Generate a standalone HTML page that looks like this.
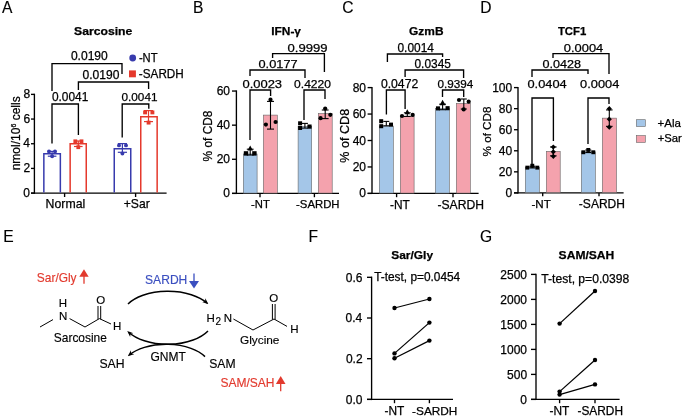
<!DOCTYPE html>
<html><head><meta charset="utf-8"><title>Figure</title>
<style>
html,body{margin:0;padding:0;background:#fff;}
svg{display:block;font-family:"Liberation Sans",sans-serif;}
text{stroke-linejoin:round;}
</style></head>
<body>
<svg width="685" height="419" viewBox="0 0 685 419">
<rect width="685" height="419" fill="#fff"/>
<text x="2.01" y="13.2" font-size="15.6" fill="#000" stroke="#000" stroke-width="0.15">A</text>
<text x="192.88" y="13.2" font-size="15.6" fill="#000" stroke="#000" stroke-width="0.15">B</text>
<text x="342.37" y="13.3" font-size="15.6" fill="#000" stroke="#000" stroke-width="0.15">C</text>
<text x="480.26" y="13.2" font-size="15.6" fill="#000" stroke="#000" stroke-width="0.15">D</text>
<text x="3.20" y="242" font-size="15.6" fill="#000" stroke="#000" stroke-width="0.15">E</text>
<text x="308.43" y="242" font-size="15.6" fill="#000" stroke="#000" stroke-width="0.15">F</text>
<text x="480.11" y="242.1" font-size="15.6" fill="#000" stroke="#000" stroke-width="0.15">G</text>
<text x="74.03" y="35.2" font-size="11.4" font-weight="bold" fill="#000" stroke="#000" stroke-width="0.25" textLength="58.34" lengthAdjust="spacingAndGlyphs">Sarcosine</text>
<line x1="34.4" y1="93.705" x2="34.4" y2="193.775" stroke="#000" stroke-width="1.35"/>
<line x1="31" y1="193.1" x2="166.6" y2="193.1" stroke="#000" stroke-width="1.35"/>
<line x1="31" y1="193.1" x2="34.4" y2="193.1" stroke="#000" stroke-width="1.35"/>
<text x="23.36" y="196.79999999999998" font-size="12" fill="#000" stroke="#000" stroke-width="0.25">0</text>
<line x1="31" y1="168.42" x2="34.4" y2="168.42" stroke="#000" stroke-width="1.35"/>
<text x="23.54" y="172.11999999999998" font-size="12" fill="#000" stroke="#000" stroke-width="0.25">2</text>
<line x1="31" y1="143.74" x2="34.4" y2="143.74" stroke="#000" stroke-width="1.35"/>
<text x="23.24" y="147.44" font-size="12" fill="#000" stroke="#000" stroke-width="0.25">4</text>
<line x1="31" y1="119.06" x2="34.4" y2="119.06" stroke="#000" stroke-width="1.35"/>
<text x="23.42" y="122.76" font-size="12" fill="#000" stroke="#000" stroke-width="0.25">6</text>
<line x1="31" y1="94.38" x2="34.4" y2="94.38" stroke="#000" stroke-width="1.35"/>
<text x="23.42" y="98.08" font-size="12" fill="#000" stroke="#000" stroke-width="0.25">8</text>
<line x1="64.6" y1="193.1" x2="64.6" y2="197" stroke="#000" stroke-width="1.35"/>
<line x1="135.6" y1="193.1" x2="135.6" y2="197" stroke="#000" stroke-width="1.35"/>
<text x="45.62" y="208.3" font-size="12.29" fill="#000" stroke="#000" stroke-width="0.25">Normal</text>
<text x="123.79" y="208.3" font-size="12.14" fill="#000" stroke="#000" stroke-width="0.25">+Sar</text>
<text transform="translate(20 170.3) rotate(-90)" font-size="12" fill="#000" stroke="#000" stroke-width="0.25">nmol/10<tspan font-size="7" dy="-4.4">6</tspan><tspan dy="4.4"> cells</tspan></text>
<path d="M43.85 192.5V153.75H60.35V192.5" fill="none" stroke="#383bad" stroke-width="1.5"/>
<path d="M70.15 192.5V143.85H86.25V192.5" fill="none" stroke="#e5392c" stroke-width="1.5"/>
<path d="M114.25 192.5V148.75H130.75V192.5" fill="none" stroke="#383bad" stroke-width="1.5"/>
<path d="M140.75 192.5V116.65H157.15V192.5" fill="none" stroke="#e5392c" stroke-width="1.5"/>
<line x1="52.1" y1="151.4" x2="52.1" y2="156.2" stroke="#383bad" stroke-width="1.2"/>
<line x1="47.800000000000004" y1="151.4" x2="56.4" y2="151.4" stroke="#383bad" stroke-width="1.2"/>
<line x1="47.800000000000004" y1="156.2" x2="56.4" y2="156.2" stroke="#383bad" stroke-width="1.2"/>
<circle cx="49" cy="151.5" r="2.0" fill="#383bad"/>
<circle cx="55" cy="151.5" r="2.0" fill="#383bad"/>
<circle cx="52.1" cy="156.2" r="2.0" fill="#383bad"/>
<line x1="78.3" y1="141.0" x2="78.3" y2="146.5" stroke="#e5392c" stroke-width="1.2"/>
<line x1="74.0" y1="141.0" x2="82.6" y2="141.0" stroke="#e5392c" stroke-width="1.2"/>
<line x1="74.0" y1="146.5" x2="82.6" y2="146.5" stroke="#e5392c" stroke-width="1.2"/>
<rect x="73.39999999999999" y="139.4" width="3.8" height="3.8" fill="#e5392c"/>
<rect x="79.6" y="139.4" width="3.8" height="3.8" fill="#e5392c"/>
<rect x="76.39999999999999" y="145.29999999999998" width="3.8" height="3.8" fill="#e5392c"/>
<line x1="122.4" y1="143.6" x2="122.4" y2="152.3" stroke="#383bad" stroke-width="1.2"/>
<line x1="117.80000000000001" y1="143.6" x2="127.0" y2="143.6" stroke="#383bad" stroke-width="1.2"/>
<line x1="117.80000000000001" y1="152.3" x2="127.0" y2="152.3" stroke="#383bad" stroke-width="1.2"/>
<circle cx="119" cy="145.4" r="1.95" fill="#383bad"/>
<circle cx="126" cy="145.4" r="1.95" fill="#383bad"/>
<circle cx="122.4" cy="153.5" r="1.95" fill="#383bad"/>
<line x1="148.5" y1="110.6" x2="148.5" y2="121.6" stroke="#e5392c" stroke-width="1.2"/>
<line x1="144.0" y1="110.6" x2="153.0" y2="110.6" stroke="#e5392c" stroke-width="1.2"/>
<line x1="144.0" y1="121.6" x2="153.0" y2="121.6" stroke="#e5392c" stroke-width="1.2"/>
<rect x="143.15" y="110.45" width="3.9" height="3.9" fill="#e5392c"/>
<rect x="150.45000000000002" y="110.45" width="3.9" height="3.9" fill="#e5392c"/>
<rect x="146.65" y="120.64999999999999" width="3.9" height="3.9" fill="#e5392c"/>
<path d="M52 143.6V104H78.4V135" stroke="#000" stroke-width="1.35" fill="none"/>
<path d="M122.2 137.4V104H148.8V108.8" stroke="#000" stroke-width="1.35" fill="none"/>
<path d="M52 91V63.6H122V74" stroke="#000" stroke-width="1.35" fill="none"/>
<path d="M78.4 90V82H148.6V89" stroke="#000" stroke-width="1.35" fill="none"/>
<text x="51.92" y="101.1" font-size="11.9" fill="#000" stroke="#000" stroke-width="0.25">0.0041</text>
<text x="121.53" y="101.1" font-size="11.76" fill="#000" stroke="#000" stroke-width="0.25">0.0041</text>
<text x="70.92" y="59.5" font-size="12.06" fill="#000" stroke="#000" stroke-width="0.25">0.0190</text>
<text x="82.52" y="79.3" font-size="12.06" fill="#000" stroke="#000" stroke-width="0.25">0.0190</text>
<circle cx="132.7" cy="58" r="3.4" fill="#383bad"/>
<text x="138.90" y="62" font-size="12" fill="#000" stroke="#000" stroke-width="0.25" textLength="18.64" lengthAdjust="spacingAndGlyphs">-NT</text>
<rect x="129" y="70.4" width="6.9" height="6.9" fill="#e5392c" stroke="none" stroke-width="1"/>
<text x="138.87" y="78.2" font-size="12" fill="#000" stroke="#000" stroke-width="0.25" textLength="44.91" lengthAdjust="spacingAndGlyphs">-SARDH</text>
<text x="271.23" y="35" font-size="11.4" font-weight="bold" fill="#000" stroke="#000" stroke-width="0.25" textLength="29.78" lengthAdjust="spacingAndGlyphs">IFN-γ</text>
<line x1="236.4" y1="90.36500000000001" x2="236.4" y2="194.07500000000002" stroke="#000" stroke-width="1.35"/>
<line x1="232.0" y1="193.4" x2="339" y2="193.4" stroke="#000" stroke-width="1.35"/>
<line x1="232.0" y1="193.4" x2="236.4" y2="193.4" stroke="#000" stroke-width="1.35"/>
<text x="223.36" y="197.4" font-size="12" fill="#000" stroke="#000" stroke-width="0.25">0</text>
<line x1="232.0" y1="159.28" x2="236.4" y2="159.28" stroke="#000" stroke-width="1.35"/>
<text x="216.70" y="163.28" font-size="12" fill="#000" stroke="#000" stroke-width="0.25">20</text>
<line x1="232.0" y1="125.16000000000001" x2="236.4" y2="125.16000000000001" stroke="#000" stroke-width="1.35"/>
<text x="216.70" y="129.16000000000003" font-size="12" fill="#000" stroke="#000" stroke-width="0.25">40</text>
<line x1="232.0" y1="91.04" x2="236.4" y2="91.04" stroke="#000" stroke-width="1.35"/>
<text x="216.70" y="95.04" font-size="12" fill="#000" stroke="#000" stroke-width="0.25">60</text>
<line x1="260" y1="193.4" x2="260" y2="197.20000000000002" stroke="#000" stroke-width="1.35"/>
<line x1="314.4" y1="193.4" x2="314.4" y2="197.20000000000002" stroke="#000" stroke-width="1.35"/>
<rect x="243.3" y="153.99" width="13.799999999999978" height="39.11" fill="#a4c6e8" stroke="#666" stroke-width="0.6"/>
<rect x="263.3" y="115.09" width="14.000000000000023" height="78.01" fill="#f4a2ad" stroke="#666" stroke-width="0.6"/>
<rect x="298.1" y="126.52" width="13.599999999999989" height="66.58" fill="#a4c6e8" stroke="#666" stroke-width="0.6"/>
<rect x="318.3" y="113.56" width="13.9" height="79.54" fill="#f4a2ad" stroke="#666" stroke-width="0.6"/>
<text x="251.09" y="208" font-size="11.25" fill="#000" stroke="#000" stroke-width="0.25">-NT</text>
<text x="296.09" y="208" font-size="11.34" fill="#000" stroke="#000" stroke-width="0.25">-SARDH</text>
<text transform="translate(211.5 161) rotate(-90)" x="-0.42" y="0" font-size="11.89" fill="#000" stroke="#000" stroke-width="0.25">% of CD8</text>
<line x1="250.2" y1="149.2" x2="250.2" y2="155" stroke="#000" stroke-width="1.1"/>
<line x1="246.79999999999998" y1="149.2" x2="253.6" y2="149.2" stroke="#000" stroke-width="1.1"/>
<line x1="246.79999999999998" y1="155" x2="253.6" y2="155" stroke="#000" stroke-width="1.1"/>
<rect x="243.8" y="151.20000000000002" width="4.4" height="4.4" fill="#000"/>
<rect x="252.20000000000002" y="151.20000000000002" width="4.4" height="4.4" fill="#000"/>
<path d="M250.2 145.6L252.95 150.6H247.45Z" fill="#000"/>
<line x1="270.5" y1="101.4" x2="270.5" y2="129.1" stroke="#000" stroke-width="1.1"/>
<line x1="267.0" y1="101.4" x2="274.0" y2="101.4" stroke="#000" stroke-width="1.1"/>
<line x1="267.0" y1="129.1" x2="274.0" y2="129.1" stroke="#000" stroke-width="1.1"/>
<circle cx="270.5" cy="99.7" r="2.1" fill="#000"/>
<circle cx="265.9" cy="124.6" r="2.1" fill="#000"/>
<circle cx="275.6" cy="122" r="2.1" fill="#000"/>
<line x1="304.9" y1="123.4" x2="304.9" y2="128.1" stroke="#000" stroke-width="1.1"/>
<line x1="301.9" y1="123.4" x2="307.9" y2="123.4" stroke="#000" stroke-width="1.1"/>
<line x1="301.9" y1="128.1" x2="307.9" y2="128.1" stroke="#000" stroke-width="1.1"/>
<rect x="298.1" y="121.3" width="4.0" height="4.0" fill="#000"/>
<rect x="298.1" y="126.0" width="4.0" height="4.0" fill="#000"/>
<rect x="307.4" y="124.5" width="4.2" height="4.2" fill="#000"/>
<line x1="325.2" y1="110" x2="325.2" y2="118.6" stroke="#000" stroke-width="1.1"/>
<line x1="321.8" y1="110" x2="328.59999999999997" y2="110" stroke="#000" stroke-width="1.1"/>
<line x1="321.8" y1="118.6" x2="328.59999999999997" y2="118.6" stroke="#000" stroke-width="1.1"/>
<circle cx="325.2" cy="108.6" r="2.1" fill="#000"/>
<circle cx="320.6" cy="118.2" r="2.1" fill="#000"/>
<circle cx="330.3" cy="114.8" r="2.1" fill="#000"/>
<path d="M250 140V90H270.6V96" stroke="#000" stroke-width="1.35" fill="none"/>
<path d="M304 120V90H325V99" stroke="#000" stroke-width="1.35" fill="none"/>
<path d="M250 76V70H305V78" stroke="#000" stroke-width="1.35" fill="none"/>
<path d="M272.6 58V53.6H324.4V72" stroke="#000" stroke-width="1.35" fill="none"/>
<text x="242.48" y="88.3" font-size="11.8" fill="#000" stroke="#000" stroke-width="0.25" textLength="39.62" lengthAdjust="spacingAndGlyphs">0.0023</text>
<text x="294.12" y="88.3" font-size="11.8" fill="#000" stroke="#000" stroke-width="0.25" textLength="36.89" lengthAdjust="spacingAndGlyphs">0.4220</text>
<text x="258.49" y="68.2" font-size="11.8" fill="#000" stroke="#000" stroke-width="0.25" textLength="39.13" lengthAdjust="spacingAndGlyphs">0.0177</text>
<text x="287.48" y="51.6" font-size="11.8" fill="#000" stroke="#000" stroke-width="0.25" textLength="40.10" lengthAdjust="spacingAndGlyphs">0.9999</text>
<text x="409.12" y="35" font-size="11.4" font-weight="bold" fill="#000" stroke="#000" stroke-width="0.25" textLength="34.40" lengthAdjust="spacingAndGlyphs">GzmB</text>
<line x1="372" y1="86.92500000000001" x2="372" y2="194.07500000000002" stroke="#000" stroke-width="1.35"/>
<line x1="367.6" y1="193.4" x2="478.6" y2="193.4" stroke="#000" stroke-width="1.35"/>
<line x1="367.6" y1="193.4" x2="372" y2="193.4" stroke="#000" stroke-width="1.35"/>
<text x="359.36" y="197.4" font-size="12" fill="#000" stroke="#000" stroke-width="0.25">0</text>
<line x1="367.6" y1="166.95000000000002" x2="372" y2="166.95000000000002" stroke="#000" stroke-width="1.35"/>
<text x="352.70" y="170.95000000000002" font-size="12" fill="#000" stroke="#000" stroke-width="0.25">20</text>
<line x1="367.6" y1="140.5" x2="372" y2="140.5" stroke="#000" stroke-width="1.35"/>
<text x="352.70" y="144.5" font-size="12" fill="#000" stroke="#000" stroke-width="0.25">40</text>
<line x1="367.6" y1="114.05000000000001" x2="372" y2="114.05000000000001" stroke="#000" stroke-width="1.35"/>
<text x="352.70" y="118.05000000000001" font-size="12" fill="#000" stroke="#000" stroke-width="0.25">60</text>
<line x1="367.6" y1="87.60000000000001" x2="372" y2="87.60000000000001" stroke="#000" stroke-width="1.35"/>
<text x="352.70" y="91.60000000000001" font-size="12" fill="#000" stroke="#000" stroke-width="0.25">80</text>
<line x1="396.6" y1="193.4" x2="396.6" y2="197.20000000000002" stroke="#000" stroke-width="1.35"/>
<line x1="453" y1="193.4" x2="453" y2="197.20000000000002" stroke="#000" stroke-width="1.35"/>
<rect x="379.3" y="126.08" width="14.000000000000023" height="67.02" fill="#a4c6e8" stroke="#666" stroke-width="0.6"/>
<rect x="400.3" y="116.30" width="13.799999999999978" height="76.80" fill="#f4a2ad" stroke="#666" stroke-width="0.6"/>
<rect x="435.3" y="108.36" width="14.000000000000023" height="84.74" fill="#a4c6e8" stroke="#666" stroke-width="0.6"/>
<rect x="456.3" y="103.47" width="14.000000000000023" height="89.63" fill="#f4a2ad" stroke="#666" stroke-width="0.6"/>
<text x="390.07" y="209" font-size="11.88" fill="#000" stroke="#000" stroke-width="0.25">-NT</text>
<text x="437.45" y="209" font-size="12.15" fill="#000" stroke="#000" stroke-width="0.25">-SARDH</text>
<text transform="translate(349 162.3) rotate(-90)" x="-0.44" y="0" font-size="12.6" fill="#000" stroke="#000" stroke-width="0.25">% of CD8</text>
<line x1="386.3" y1="121.4" x2="386.3" y2="125.8" stroke="#000" stroke-width="1.1"/>
<line x1="383.3" y1="121.4" x2="389.3" y2="121.4" stroke="#000" stroke-width="1.1"/>
<line x1="383.3" y1="125.8" x2="389.3" y2="125.8" stroke="#000" stroke-width="1.1"/>
<rect x="379.2" y="119.2" width="4.0" height="4.0" fill="#000"/>
<rect x="379.2" y="124.2" width="4.0" height="4.0" fill="#000"/>
<rect x="389.0" y="122.6" width="4.0" height="4.0" fill="#000"/>
<line x1="407.3" y1="112.8" x2="407.3" y2="116.4" stroke="#000" stroke-width="1.1"/>
<line x1="403.90000000000003" y1="112.8" x2="410.7" y2="112.8" stroke="#000" stroke-width="1.1"/>
<line x1="403.90000000000003" y1="116.4" x2="410.7" y2="116.4" stroke="#000" stroke-width="1.1"/>
<circle cx="402" cy="116" r="2.1" fill="#000"/>
<circle cx="412.7" cy="114.9" r="2.1" fill="#000"/>
<path d="M407.3 109.2L410.05 114.2H404.55Z" fill="#000"/>
<line x1="442.6" y1="104.2" x2="442.6" y2="109.7" stroke="#000" stroke-width="1.1"/>
<line x1="439.20000000000005" y1="104.2" x2="446.0" y2="104.2" stroke="#000" stroke-width="1.1"/>
<line x1="439.20000000000005" y1="109.7" x2="446.0" y2="109.7" stroke="#000" stroke-width="1.1"/>
<rect x="435.95" y="106.35000000000001" width="4.1" height="4.1" fill="#000"/>
<rect x="445.55" y="106.15" width="4.1" height="4.1" fill="#000"/>
<path d="M442.6 99.76L445.57000000000005 105.16H439.63Z" fill="#000"/>
<line x1="463.8" y1="99" x2="463.8" y2="109" stroke="#000" stroke-width="1.1"/>
<line x1="460.8" y1="99" x2="466.8" y2="99" stroke="#000" stroke-width="1.1"/>
<line x1="460.8" y1="109" x2="466.8" y2="109" stroke="#000" stroke-width="1.1"/>
<circle cx="459" cy="100" r="2.1" fill="#000"/>
<circle cx="468.7" cy="101.7" r="2.1" fill="#000"/>
<circle cx="463.7" cy="109.4" r="2.1" fill="#000"/>
<path d="M386.4 114.4V90H405.1V109" stroke="#000" stroke-width="1.35" fill="none"/>
<path d="M442.5 97V90H463.7V97" stroke="#000" stroke-width="1.35" fill="none"/>
<path d="M405.1 77V70H463.6V78" stroke="#000" stroke-width="1.35" fill="none"/>
<path d="M387.4 62V54H442.6V57" stroke="#000" stroke-width="1.35" fill="none"/>
<text x="380.91" y="88" font-size="12.19" fill="#000" stroke="#000" stroke-width="0.25">0.0472</text>
<text x="437.53" y="88" font-size="11.69" fill="#000" stroke="#000" stroke-width="0.25">0.9394</text>
<text x="414.52" y="68" font-size="11.88" fill="#000" stroke="#000" stroke-width="0.25">0.0345</text>
<text x="397.52" y="51.6" font-size="11.89" fill="#000" stroke="#000" stroke-width="0.25">0.0014</text>
<text x="557.89" y="35" font-size="11.4" font-weight="bold" fill="#000" stroke="#000" stroke-width="0.25" textLength="28.40" lengthAdjust="spacingAndGlyphs">TCF1</text>
<line x1="518" y1="86.92500000000001" x2="518" y2="193.57500000000002" stroke="#000" stroke-width="1.35"/>
<line x1="514" y1="192.9" x2="623.6" y2="192.9" stroke="#000" stroke-width="1.35"/>
<line x1="514" y1="192.9" x2="518" y2="192.9" stroke="#000" stroke-width="1.35"/>
<text x="505.46" y="196.9" font-size="12" fill="#000" stroke="#000" stroke-width="0.25">0</text>
<line x1="514" y1="171.84" x2="518" y2="171.84" stroke="#000" stroke-width="1.35"/>
<text x="498.80" y="175.84" font-size="12" fill="#000" stroke="#000" stroke-width="0.25">20</text>
<line x1="514" y1="150.78" x2="518" y2="150.78" stroke="#000" stroke-width="1.35"/>
<text x="498.80" y="154.78" font-size="12" fill="#000" stroke="#000" stroke-width="0.25">40</text>
<line x1="514" y1="129.72000000000003" x2="518" y2="129.72000000000003" stroke="#000" stroke-width="1.35"/>
<text x="498.80" y="133.72000000000003" font-size="12" fill="#000" stroke="#000" stroke-width="0.25">60</text>
<line x1="514" y1="108.66000000000001" x2="518" y2="108.66000000000001" stroke="#000" stroke-width="1.35"/>
<text x="498.80" y="112.66000000000001" font-size="12" fill="#000" stroke="#000" stroke-width="0.25">80</text>
<line x1="514" y1="87.60000000000001" x2="518" y2="87.60000000000001" stroke="#000" stroke-width="1.35"/>
<text x="492.14" y="91.60000000000001" font-size="12" fill="#000" stroke="#000" stroke-width="0.25">100</text>
<line x1="542.7" y1="192.9" x2="542.7" y2="196.3" stroke="#000" stroke-width="1.35"/>
<line x1="599" y1="192.9" x2="599" y2="196.3" stroke="#000" stroke-width="1.35"/>
<rect x="525.3" y="167.31" width="14.000000000000023" height="25.29" fill="#a4c6e8" stroke="#666" stroke-width="0.6"/>
<rect x="546.3" y="151.31" width="13.9" height="41.29" fill="#f4a2ad" stroke="#666" stroke-width="0.6"/>
<rect x="581.3" y="151.83" width="14.000000000000023" height="40.77" fill="#a4c6e8" stroke="#666" stroke-width="0.6"/>
<rect x="602.3" y="118.14" width="14.199999999999955" height="74.46" fill="#f4a2ad" stroke="#666" stroke-width="0.6"/>
<text x="531.48" y="207.5" font-size="11.63" fill="#000" stroke="#000" stroke-width="0.25">-NT</text>
<text x="578.86" y="207.5" font-size="12.04" fill="#000" stroke="#000" stroke-width="0.25">-SARDH</text>
<text transform="translate(491 156) rotate(-90)" x="-0.41" y="0" font-size="11.65" fill="#000" stroke="#000" stroke-width="0.25">% of CD8</text>
<line x1="532.3" y1="166.25910000000002" x2="532.3" y2="167.9439" stroke="#000" stroke-width="1.1"/>
<line x1="529.3" y1="166.25910000000002" x2="535.3" y2="166.25910000000002" stroke="#000" stroke-width="1.1"/>
<line x1="529.3" y1="167.9439" x2="535.3" y2="167.9439" stroke="#000" stroke-width="1.1"/>
<rect x="525.3499999999999" y="165.67800000000003" width="3.9" height="3.9" fill="#000"/>
<rect x="535.3499999999999" y="165.67800000000003" width="3.9" height="3.9" fill="#000"/>
<rect x="530.3499999999999" y="163.7826" width="3.9" height="3.9" fill="#000"/>
<line x1="553.3" y1="146.9892" x2="553.3" y2="155.83440000000002" stroke="#000" stroke-width="1.1"/>
<line x1="550.0" y1="146.9892" x2="556.5999999999999" y2="146.9892" stroke="#000" stroke-width="1.1"/>
<line x1="550.0" y1="155.83440000000002" x2="556.5999999999999" y2="155.83440000000002" stroke="#000" stroke-width="1.1"/>
<path d="M553.3 144.38920000000002L555.9 146.9892L553.3 149.5892L550.6999999999999 146.9892Z" fill="#000"/>
<path d="M553.3 149.233L555.9 151.833L553.3 154.433L550.6999999999999 151.833Z" fill="#000"/>
<path d="M553.3 153.76090000000002L555.9 156.36090000000002L553.3 158.9609L550.6999999999999 156.36090000000002Z" fill="#000"/>
<line x1="588.3" y1="150.0429" x2="588.3" y2="152.57010000000002" stroke="#000" stroke-width="1.1"/>
<line x1="585.3" y1="150.0429" x2="591.3" y2="150.0429" stroke="#000" stroke-width="1.1"/>
<line x1="585.3" y1="152.57010000000002" x2="591.3" y2="152.57010000000002" stroke="#000" stroke-width="1.1"/>
<rect x="581.3499999999999" y="150.3042" width="3.9" height="3.9" fill="#000"/>
<rect x="591.3499999999999" y="150.3042" width="3.9" height="3.9" fill="#000"/>
<rect x="586.3499999999999" y="147.98760000000001" width="3.9" height="3.9" fill="#000"/>
<line x1="609.3" y1="109.92360000000001" x2="609.3" y2="126.35040000000001" stroke="#000" stroke-width="1.1"/>
<line x1="606.0" y1="109.92360000000001" x2="612.5999999999999" y2="109.92360000000001" stroke="#000" stroke-width="1.1"/>
<line x1="606.0" y1="126.35040000000001" x2="612.5999999999999" y2="126.35040000000001" stroke="#000" stroke-width="1.1"/>
<path d="M609.3 106.06000000000002L611.9 108.66000000000001L609.3 111.26L606.6999999999999 108.66000000000001Z" fill="#000"/>
<path d="M609.3 116.59000000000002L611.9 119.19000000000001L609.3 121.79L606.6999999999999 119.19000000000001Z" fill="#000"/>
<path d="M609.3 124.59280000000001L611.9 127.1928L609.3 129.7928L606.6999999999999 127.1928Z" fill="#000"/>
<path d="M532 164V98H553.4V141" stroke="#000" stroke-width="1.35" fill="none"/>
<path d="M588 144V98H609V104" stroke="#000" stroke-width="1.35" fill="none"/>
<path d="M532 77V70H588V74" stroke="#000" stroke-width="1.35" fill="none"/>
<path d="M553 58V53.6H609V74" stroke="#000" stroke-width="1.35" fill="none"/>
<text x="527.49" y="88.3" font-size="11.8" fill="#000" stroke="#000" stroke-width="0.25" textLength="39.22" lengthAdjust="spacingAndGlyphs">0.0404</text>
<text x="580.09" y="88.3" font-size="11.8" fill="#000" stroke="#000" stroke-width="0.25" textLength="39.22" lengthAdjust="spacingAndGlyphs">0.0004</text>
<text x="542.50" y="68.2" font-size="11.8" fill="#000" stroke="#000" stroke-width="0.25" textLength="38.59" lengthAdjust="spacingAndGlyphs">0.0428</text>
<text x="563.88" y="51.6" font-size="11.8" fill="#000" stroke="#000" stroke-width="0.25" textLength="39.42" lengthAdjust="spacingAndGlyphs">0.0004</text>
<rect x="636.3" y="119.7" width="9" height="6.8" fill="#a4c6e8" stroke="#666" stroke-width="0.6"/>
<rect x="636.3" y="135.6" width="9" height="6.8" fill="#f4a2ad" stroke="#666" stroke-width="0.6"/>
<text x="657.62" y="126.7" font-size="11.52" fill="#000" stroke="#000" stroke-width="0.25">+Ala</text>
<text x="657.64" y="141.9" font-size="11.28" fill="#000" stroke="#000" stroke-width="0.25">+Sar</text>
<text x="36.86" y="282" font-size="11.91" fill="#e23a2e" stroke="#e23a2e" stroke-width="0.15">Sar/Gly</text>
<path d="M84 269.2L88.7 276.8H79.3Z" fill="#e23a2e"/>
<line x1="84" y1="275.8" x2="84" y2="283.8" stroke="#e23a2e" stroke-width="1.3"/>
<text x="145.06" y="284" font-size="12.09" fill="#3b4fc0" stroke="#3b4fc0" stroke-width="0.15">SARDH</text>
<path d="M194 288.6L189 281H199Z" fill="#3b4fc0"/>
<line x1="194" y1="273.4" x2="194" y2="282" stroke="#3b4fc0" stroke-width="1.3"/>
<text x="220.46" y="386.6" font-size="12.02" fill="#e23a2e" stroke="#e23a2e" stroke-width="0.15">SAM/SAH</text>
<path d="M280.7 376L285.5 384H275.9Z" fill="#e23a2e"/>
<line x1="280.7" y1="383" x2="280.7" y2="391.2" stroke="#e23a2e" stroke-width="1.3"/>
<text x="58.86" y="307" font-size="11.5" fill="#000" stroke="#000" stroke-width="0.15">H</text>
<text x="59.06" y="319.6" font-size="11.5" fill="#000" stroke="#000" stroke-width="0.15">N</text>
<text x="96.14" y="304.4" font-size="11.5" fill="#000" stroke="#000" stroke-width="0.15">O</text>
<text x="113.06" y="330" font-size="11.5" fill="#000" stroke="#000" stroke-width="0.15">H</text>
<line x1="40" y1="327" x2="53" y2="319.6" stroke="#000" stroke-width="1.0"/>
<line x1="69.6" y1="318.6" x2="85" y2="327" stroke="#000" stroke-width="1.0"/>
<line x1="85" y1="327" x2="99.4" y2="318.6" stroke="#000" stroke-width="1.0"/>
<line x1="98" y1="306" x2="98" y2="319.2" stroke="#000" stroke-width="1.0"/>
<line x1="100.7" y1="306" x2="100.7" y2="319.2" stroke="#000" stroke-width="1.0"/>
<line x1="99.4" y1="318.6" x2="111" y2="324" stroke="#000" stroke-width="1.0"/>
<text x="53.86" y="341.5" font-size="11.93" fill="#000" stroke="#000" stroke-width="0.15">Sarcosine</text>
<text x="99.45" y="368" font-size="12.23" fill="#000" stroke="#000" stroke-width="0.15">SAH</text>
<text x="150.40" y="361" font-size="12.03" fill="#000" stroke="#000" stroke-width="0.15">GNMT</text>
<text x="209.25" y="368" font-size="12.16" fill="#000" stroke="#000" stroke-width="0.15">SAM</text>
<text x="206.56" y="321.6" font-size="11.5" fill="#000" stroke="#000" stroke-width="0.15">H</text>
<text x="215.62" y="324.6" font-size="10" fill="#000" stroke="#000" stroke-width="0.15">2</text>
<text x="223.66" y="321.6" font-size="11.5" fill="#000" stroke="#000" stroke-width="0.15">N</text>
<text x="269.14" y="302.3" font-size="11.5" fill="#000" stroke="#000" stroke-width="0.15">O</text>
<text x="290.16" y="332.5" font-size="11.5" fill="#000" stroke="#000" stroke-width="0.15">H</text>
<line x1="233.4" y1="319" x2="253" y2="330" stroke="#000" stroke-width="1.0"/>
<line x1="253" y1="330" x2="274" y2="319" stroke="#000" stroke-width="1.0"/>
<line x1="272.4" y1="304" x2="272.4" y2="319.6" stroke="#000" stroke-width="1.0"/>
<line x1="275.1" y1="304" x2="275.1" y2="319.6" stroke="#000" stroke-width="1.0"/>
<line x1="274" y1="319" x2="287" y2="326.4" stroke="#000" stroke-width="1.0"/>
<text x="240.01" y="344" font-size="11.83" fill="#000" stroke="#000" stroke-width="0.15">Glycine</text>
<defs><marker id="ah" viewBox="0 0 10 10" refX="7" refY="5" markerWidth="6.2" markerHeight="6.2" markerUnits="userSpaceOnUse" orient="auto"><path d="M0 1L10 5L0 9L3 5Z" fill="#000"/></marker></defs>
<path d="M128 304 A46 25.1 0 0 1 207 303" stroke="#000" stroke-width="1.5" fill="none" marker-end="url(#ah)"/>
<path d="M208 331 A46 25.7 0 0 1 128.6 332.2" stroke="#000" stroke-width="1.5" fill="none" marker-end="url(#ah)"/>
<path d="M205 356.6 A44 23.3 0 0 0 129.2 355" stroke="#000" stroke-width="1.5" fill="none" marker-end="url(#ah)"/>
<text x="391.24" y="259" font-size="11.4" font-weight="bold" fill="#000" stroke="#000" stroke-width="0.25" textLength="41.84" lengthAdjust="spacingAndGlyphs">Sar/Gly</text>
<line x1="371.6" y1="276.62499999999994" x2="371.6" y2="400.075" stroke="#000" stroke-width="1.35"/>
<line x1="367" y1="399.4" x2="453" y2="399.4" stroke="#000" stroke-width="1.35"/>
<line x1="367" y1="399.4" x2="371.6" y2="399.4" stroke="#000" stroke-width="1.35"/>
<text x="345.74" y="403.59999999999997" font-size="12" fill="#000" stroke="#000" stroke-width="0.25">0.0</text>
<line x1="367" y1="358.7" x2="371.6" y2="358.7" stroke="#000" stroke-width="1.35"/>
<text x="345.92" y="362.9" font-size="12" fill="#000" stroke="#000" stroke-width="0.25">0.2</text>
<line x1="367" y1="318.0" x2="371.6" y2="318.0" stroke="#000" stroke-width="1.35"/>
<text x="345.62" y="322.2" font-size="12" fill="#000" stroke="#000" stroke-width="0.25">0.4</text>
<line x1="367" y1="277.29999999999995" x2="371.6" y2="277.29999999999995" stroke="#000" stroke-width="1.35"/>
<text x="345.80" y="281.49999999999994" font-size="12" fill="#000" stroke="#000" stroke-width="0.25">0.6</text>
<line x1="394.5" y1="399.4" x2="394.5" y2="403.2" stroke="#000" stroke-width="1.35"/>
<line x1="429.4" y1="399.4" x2="429.4" y2="403.2" stroke="#000" stroke-width="1.35"/>
<text x="384.47" y="415.4" font-size="11.88" fill="#000" stroke="#000" stroke-width="0.25">-NT</text>
<text x="412.07" y="415.4" font-size="11.82" fill="#000" stroke="#000" stroke-width="0.25">-SARDH</text>
<text x="374.16" y="281.4" font-size="11.87" fill="#000" stroke="#000" stroke-width="0.25">T-test, p=0.0454</text>
<line x1="394.5" y1="308" x2="429.4" y2="299" stroke="#000" stroke-width="1.25"/>
<circle cx="394.5" cy="308" r="2.2" fill="#000"/>
<circle cx="429.4" cy="299" r="2.2" fill="#000"/>
<line x1="394.5" y1="353.4" x2="429.4" y2="322.6" stroke="#000" stroke-width="1.25"/>
<circle cx="394.5" cy="353.4" r="2.2" fill="#000"/>
<circle cx="429.4" cy="322.6" r="2.2" fill="#000"/>
<line x1="394.5" y1="358.2" x2="429.4" y2="340.6" stroke="#000" stroke-width="1.25"/>
<circle cx="394.5" cy="358.2" r="2.2" fill="#000"/>
<circle cx="429.4" cy="340.6" r="2.2" fill="#000"/>
<text x="558.64" y="259" font-size="11.4" font-weight="bold" fill="#000" stroke="#000" stroke-width="0.25" textLength="55.66" lengthAdjust="spacingAndGlyphs">SAM/SAH</text>
<line x1="536" y1="273.72499999999997" x2="536" y2="400.075" stroke="#000" stroke-width="1.35"/>
<line x1="531" y1="399.4" x2="619.6" y2="399.4" stroke="#000" stroke-width="1.35"/>
<line x1="531" y1="399.4" x2="536" y2="399.4" stroke="#000" stroke-width="1.35"/>
<text x="520.36" y="403.7" font-size="12" fill="#000" stroke="#000" stroke-width="0.25">0</text>
<line x1="531" y1="374.4" x2="536" y2="374.4" stroke="#000" stroke-width="1.35"/>
<text x="507.04" y="378.7" font-size="12" fill="#000" stroke="#000" stroke-width="0.25">500</text>
<line x1="531" y1="349.4" x2="536" y2="349.4" stroke="#000" stroke-width="1.35"/>
<text x="500.32" y="353.7" font-size="12" fill="#000" stroke="#000" stroke-width="0.25">1000</text>
<line x1="531" y1="324.4" x2="536" y2="324.4" stroke="#000" stroke-width="1.35"/>
<text x="500.32" y="328.7" font-size="12" fill="#000" stroke="#000" stroke-width="0.25">1500</text>
<line x1="531" y1="299.4" x2="536" y2="299.4" stroke="#000" stroke-width="1.35"/>
<text x="500.32" y="303.7" font-size="12" fill="#000" stroke="#000" stroke-width="0.25">2000</text>
<line x1="531" y1="274.4" x2="536" y2="274.4" stroke="#000" stroke-width="1.35"/>
<text x="500.32" y="278.7" font-size="12" fill="#000" stroke="#000" stroke-width="0.25">2500</text>
<line x1="559.6" y1="399.4" x2="559.6" y2="403.2" stroke="#000" stroke-width="1.35"/>
<line x1="595" y1="399.4" x2="595" y2="403.2" stroke="#000" stroke-width="1.35"/>
<text x="549.47" y="415.4" font-size="11.88" fill="#000" stroke="#000" stroke-width="0.25">-NT</text>
<text x="577.47" y="415.4" font-size="11.88" fill="#000" stroke="#000" stroke-width="0.25">-SARDH</text>
<text x="541.36" y="283" font-size="12.11" fill="#000" stroke="#000" stroke-width="0.25">T-test, p=0.0398</text>
<line x1="559.6" y1="323.6" x2="595" y2="291" stroke="#000" stroke-width="1.25"/>
<circle cx="559.6" cy="323.6" r="2.2" fill="#000"/>
<circle cx="595" cy="291" r="2.2" fill="#000"/>
<line x1="559.6" y1="391.6" x2="595" y2="360" stroke="#000" stroke-width="1.25"/>
<circle cx="559.6" cy="391.6" r="2.2" fill="#000"/>
<circle cx="595" cy="360" r="2.2" fill="#000"/>
<line x1="559.6" y1="394.6" x2="595" y2="384.4" stroke="#000" stroke-width="1.25"/>
<circle cx="559.6" cy="394.6" r="2.2" fill="#000"/>
<circle cx="595" cy="384.4" r="2.2" fill="#000"/>
</svg>
</body></html>
